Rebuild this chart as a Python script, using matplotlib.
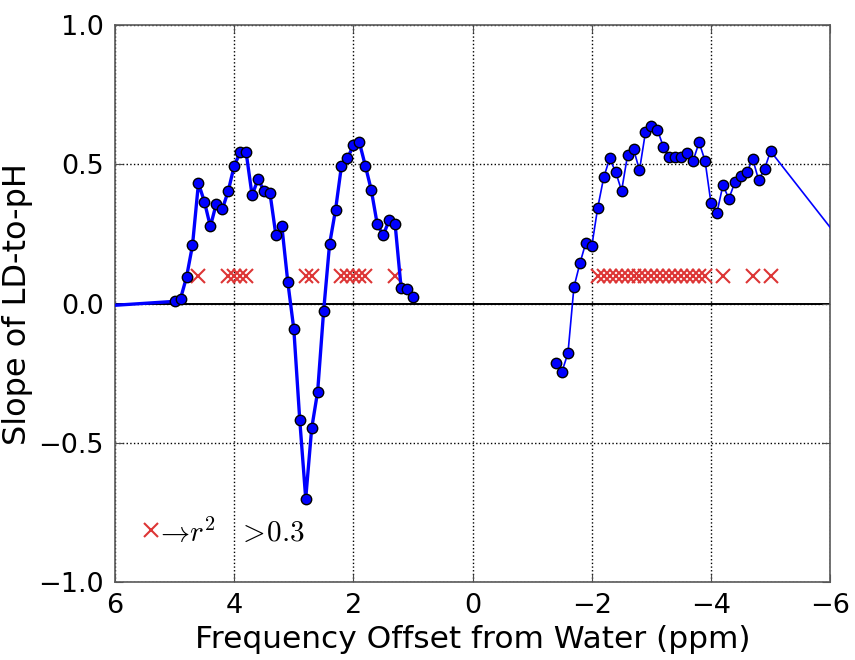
import matplotlib
matplotlib.use("Agg")
import matplotlib.pyplot as plt

plt.rcParams.update({
    "font.family": "DejaVu Sans",
    "mathtext.fontset": "cm",
    "axes.linewidth": 1.2,
})

# Downfield side (positive offsets), incl. one point beyond the axis limit
pos_ppm = [7.0, 5.0, 4.9, 4.8, 4.7, 4.6, 4.5, 4.4, 4.3, 4.2, 4.1, 4.0, 3.9,
           3.8, 3.7, 3.6, 3.5, 3.4, 3.3, 3.2, 3.1, 3.0, 2.9, 2.8, 2.7, 2.6,
           2.5, 2.4, 2.3, 2.2, 2.1, 2.0, 1.9, 1.8, 1.7, 1.6, 1.5, 1.4, 1.3,
           1.2, 1.1, 1.0]
pos_slope = [-0.02, 0.008, 0.018, 0.095, 0.209, 0.432, 0.366, 0.277, 0.359,
             0.339, 0.404, 0.495, 0.543, 0.543, 0.389, 0.447, 0.405, 0.397,
             0.245, 0.277, 0.076, -0.091, -0.418, -0.700, -0.448, -0.316,
             -0.028, 0.213, 0.336, 0.495, 0.521, 0.569, 0.579, 0.495, 0.408,
             0.285, 0.245, 0.300, 0.285, 0.057, 0.053, 0.023]

# Upfield side (negative offsets)
neg_ppm = [-1.4, -1.5, -1.6, -1.7, -1.8, -1.9, -2.0, -2.1, -2.2, -2.3, -2.4,
           -2.5, -2.6, -2.7, -2.8, -2.9, -3.0, -3.1, -3.2, -3.3, -3.4, -3.5,
           -3.6, -3.7, -3.8, -3.9, -4.0, -4.1, -4.2, -4.3, -4.4, -4.5, -4.6,
           -4.7, -4.8, -4.9, -5.0, -7.0]
neg_slope = [-0.214, -0.244, -0.178, 0.059, 0.144, 0.219, 0.207, 0.345,
             0.453, 0.521, 0.473, 0.405, 0.533, 0.555, 0.479, 0.615, 0.639,
             0.625, 0.563, 0.527, 0.527, 0.525, 0.539, 0.513, 0.579, 0.513,
             0.360, 0.327, 0.425, 0.377, 0.435, 0.457, 0.471, 0.519, 0.443,
             0.485, 0.547, 0.0]

# offsets where the fit has r^2 > 0.3
r2_ppm = [4.6, 4.1, 4.0, 3.9, 3.8, 2.8, 2.7, 2.2, 2.1, 2.0, 1.9, 1.8, 1.3,
          -2.1, -2.2, -2.3, -2.4, -2.5, -2.6, -2.7, -2.8, -2.9, -3.0, -3.1,
          -3.2, -3.3, -3.4, -3.5, -3.6, -3.7, -3.8, -3.9, -4.2, -4.7, -5.0]
R2_LEVEL = 0.1

fig = plt.figure(figsize=(8.55, 6.6), dpi=100)
ax = fig.add_axes([0.1345, 0.118, 0.8365, 0.844])

ax.axhline(0, color="k", lw=1.4, zorder=1)

ax.plot(pos_ppm, pos_slope, "-o", color="#0000ff", lw=2.4, ms=7.5,
        mfc="#0000ff", mec="k", mew=1.0, zorder=3)
ax.plot(neg_ppm, neg_slope, "-o", color="#0000ff", lw=1.2, ms=7.5,
        mfc="#0000ff", mec="k", mew=1.0, zorder=3)

ax.plot(r2_ppm, [R2_LEVEL] * len(r2_ppm), "x", color="#dd3535", ms=10,
        mew=1.5, ls="none", zorder=2,
        label=r"$\!\!\rightarrow\! r^2\;\;\; >\!0.3$")

ax.set_xlim(6, -6)
ax.set_ylim(-1.0, 1.0)
ax.set_xticks([6, 4, 2, 0, -2, -4, -6])
ax.set_yticks([-1.0, -0.5, 0.0, 0.5, 1.0])
ax.set_yticklabels(["\u22121.0", "\u22120.5", "0.0", "0.5", "1.0"])
ax.set_xticklabels(["6", "4", "2", "0", "\u22122", "\u22124", "\u22126"])
ax.grid(True, color="k", ls=":", lw=1.0)
ax.tick_params(direction="in", length=6, top=True, right=True,
               labelsize=19.5, pad=8, color="0.3")
for sp in ax.spines.values():
    sp.set_color("0.35")

ax.set_xlabel("Frequency Offset from Water (ppm)", fontsize=22.5, labelpad=4)
ax.set_ylabel("Slope of LD-to-pH", fontsize=23, labelpad=4)

ax.legend(loc="center left", bbox_to_anchor=(0.02, 0.09), frameon=False,
          numpoints=1, handlelength=0.7, handletextpad=0.0,
          fontsize=21, borderaxespad=0)

fig.savefig("out.png", dpi=100)
